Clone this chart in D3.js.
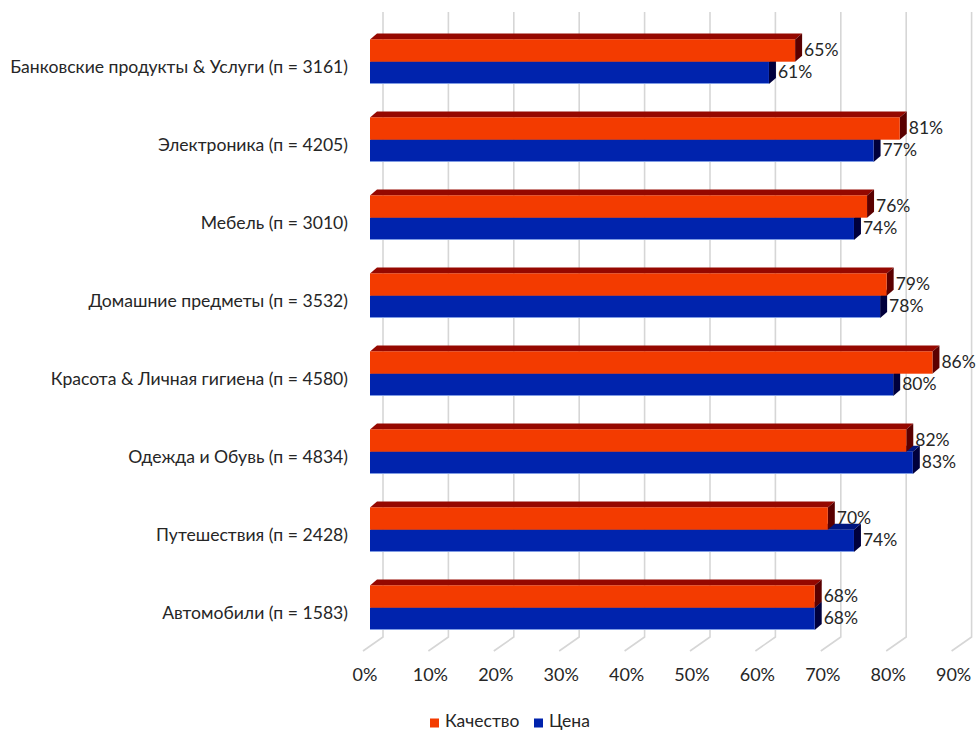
<!DOCTYPE html>
<html>
<head>
<meta charset="utf-8">
<script src="https://cdn.jsdelivr.net/npm/d3@7"></script>
<style>
  html, body { margin: 0; padding: 0; background: #fff; }
  svg { display: block; font-family: Lato, "Open Sans", sans-serif; }
</style>
</head>
<body>
<svg id="chart" width="976" height="731"></svg>
<script>
// Categories (top to bottom) and the two series, as shares
const categories = [
  "Банковские продукты & Услуги (п = 3161)",
  "Электроника (п = 4205)",
  "Мебель (п = 3010)",
  "Домашние предметы (п = 3532)",
  "Красота & Личная гигиена (п = 4580)",
  "Одежда и Обувь (п = 4834)",
  "Путешествия  (п = 2428)",
  "Автомобили (п = 1583)"
];
const quality = [0.65, 0.81, 0.76, 0.79, 0.86, 0.82, 0.70, 0.68];
const price   = [0.61, 0.77, 0.74, 0.78, 0.80, 0.83, 0.74, 0.68];
const tickValues = [0, 0.1, 0.2, 0.3, 0.4, 0.5, 0.6, 0.7, 0.8, 0.9];
const seriesNames = ["Качество", "Цена"];

const svg = d3.select("#chart");

// Front plane of the bars and the back wall of the 3D box
const x = d3.scaleLinear().domain([0, 0.9]).range([370, 370 + 588.6]);
const backShift = 13;            // back wall offset from bar front
const depth = { dx: 7, dy: -6 }; // bar depth projection
const floor = { top: 12, back: 637, dx: -20, dy: 14 };
const y = d3.scalePoint().domain(categories).range([61.7, 607.7]);
const barH = 22.3;

const colors = {
  q: { front: "#f33b00", top: "#950800", side: "#5a0000" },
  p: { front: "#0023ad", top: "#001680", side: "#00003c", edge: "#7f9be3" }
};
const textColor = "#262626";

// Gridlines: vertical on the back wall, then slanting across the floor
const grid = svg.append("g").attr("fill", "none").attr("stroke", "#d6d6d6").attr("stroke-width", 1.6);
tickValues.forEach(t => {
  const gx = x(t) + backShift;
  grid.append("path").attr("d",
    `M${gx},${floor.top}L${gx},${floor.back}L${gx + floor.dx},${floor.back + floor.dy}`);
});

// Axis tick labels along the front edge of the floor
const fmt = d3.format(".0%");
svg.append("g").selectAll("text").data(tickValues).join("text")
  .attr("x", d => x(d) - 5)
  .attr("y", 676)
  .attr("text-anchor", "middle")
  .attr("dominant-baseline", "middle")
  .attr("font-size", 18)
  .attr("fill", textColor)
  .text(d => fmt(d));

// Category labels
svg.append("g").selectAll("text").data(categories).join("text")
  .attr("x", 348)
  .attr("y", d => y(d) + 7)
  .attr("text-anchor", "end")
  .attr("dominant-baseline", "middle")
  .attr("font-size", 17.6)
  .attr("fill", textColor)
  .text(d => d);

// One 3D bar: front face, top face and right side face
function bar3d(g, v, y0, c) {
  const x0 = x(0), x1 = x(v), y1 = y0 + barH;
  const { dx, dy } = depth;
  g.append("path").attr("fill", c.top)
    .attr("d", `M${x0},${y0}L${x0 + dx},${y0 + dy}L${x1 + dx},${y0 + dy}L${x1},${y0}Z`);
  g.append("path").attr("fill", c.side)
    .attr("d", `M${x1},${y0}L${x1 + dx},${y0 + dy}L${x1 + dx},${y1 + dy}L${x1},${y1}Z`);
  g.append("rect").attr("x", x0).attr("y", y0).attr("width", x1 - x0).attr("height", barH)
    .attr("fill", c.front);
  if (c.edge) {
    g.append("line").attr("x1", x0).attr("x2", x1).attr("y1", y1 - 0.5).attr("y2", y1 - 0.5)
      .attr("stroke", c.edge).attr("stroke-width", 1);
  }
}

const bars = svg.append("g");
categories.forEach((cat, i) => {
  const c = y(cat);
  const g = bars.append("g");
  bar3d(g, price[i], c, colors.p);          // lower bar drawn first
  bar3d(g, quality[i], c - barH, colors.q); // upper bar in front of it
});

// Value labels at the end of each bar
const labels = svg.append("g")
  .attr("font-size", 17.5).attr("fill", textColor).attr("dominant-baseline", "middle");
categories.forEach((cat, i) => {
  const c = y(cat);
  labels.append("text").attr("x", x(quality[i]) + 9).attr("y", c - barH / 2 + 1).text(fmt(quality[i]));
  labels.append("text").attr("x", x(price[i]) + 9).attr("y", c + barH / 2 + 1).text(fmt(price[i]));
});

// Legend
const legendItems = [
  { name: seriesNames[0], color: colors.q.front, x: 430 },
  { name: seriesNames[1], color: colors.p.front, x: 534 }
];
const lg = svg.append("g");
legendItems.forEach(d => {
  lg.append("rect").attr("x", d.x).attr("y", 718.5).attr("width", 9).attr("height", 9).attr("fill", d.color);
  lg.append("text").attr("x", d.x + 15).attr("y", 722.5).attr("dominant-baseline", "middle")
    .attr("font-size", 17.5).attr("fill", textColor).text(d.name);
});
</script>
</body>
</html>
